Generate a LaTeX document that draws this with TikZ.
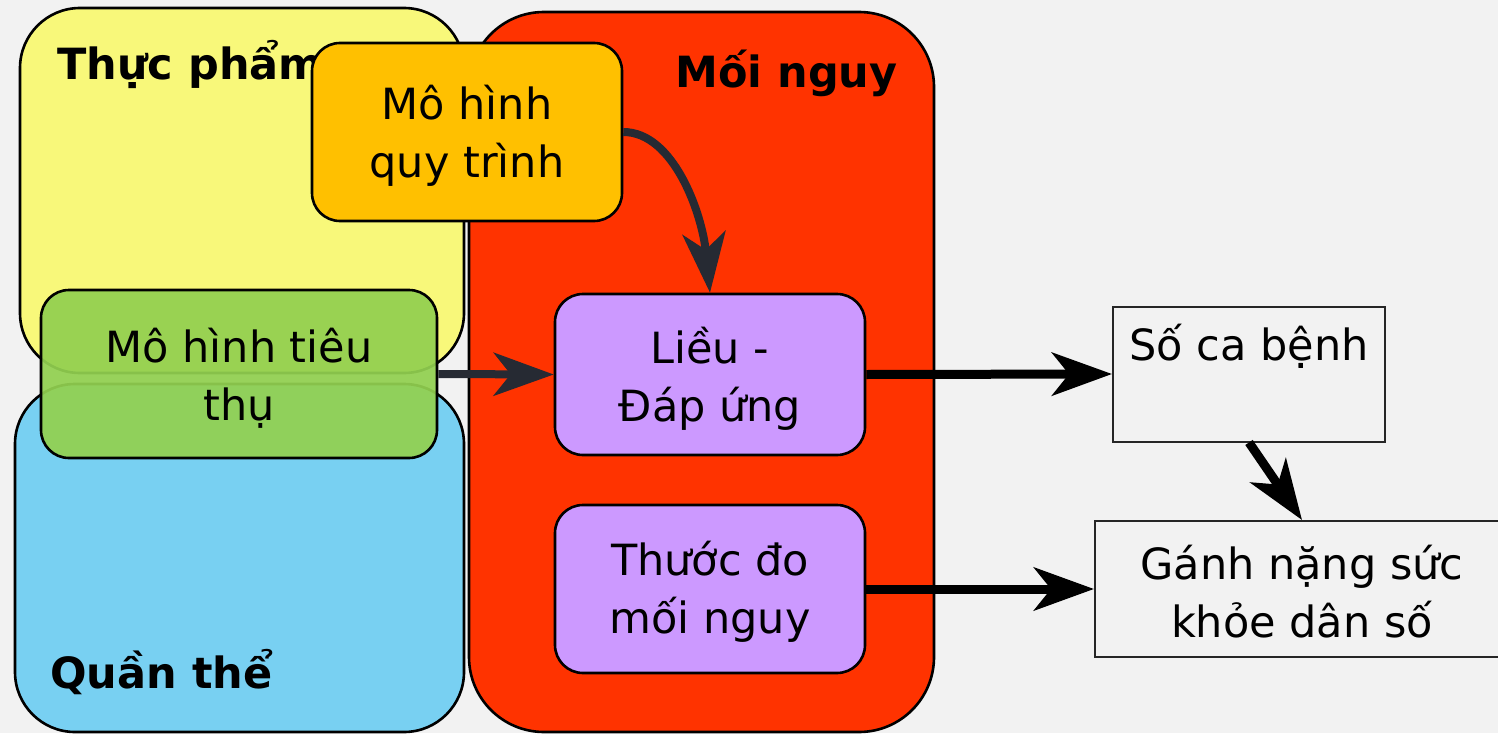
\documentclass[tikz,border=0pt]{standalone}
\usepackage{fontspec}
\setmainfont{DejaVu Sans}
\usetikzlibrary{arrows.meta}

\definecolor{bgc}{HTML}{F2F2F2}
\definecolor{foodc}{HTML}{F8F87A}
\definecolor{popc}{HTML}{78D0F2}
\definecolor{hazc}{HTML}{FF3300}
\definecolor{procc}{HTML}{FFC000}
\definecolor{consc}{HTML}{92D050}
\definecolor{dosec}{HTML}{CC99FF}
\definecolor{linkc}{HTML}{262A33}

\begin{document}
\begin{tikzpicture}[x=0.5pt,y=-0.5pt,
  every node/.style={font=\fontsize{21.5}{29}\selectfont},
  group/.style={draw=black, line width=1.3pt, rounded corners=30pt, inner sep=0pt},
  grouptitle/.style={font=\fontsize{21.5}{29}\selectfont\bfseries, anchor=base west, inner sep=0pt},
  model/.style={draw=black, line width=1.3pt, rounded corners=14pt,
                inner sep=0pt, minimum width=155pt},
  boxtext/.style={align=center, inner sep=0pt},
  outbox/.style={draw=black!85, line width=1pt, fill=bgc, inner sep=0pt},
  tipshape/.style={-{Stealth[length=30pt,width=21.5pt,inset=8.5pt]}},
  darr/.style={draw=linkc, line width=4pt, tipshape},
  barr/.style={draw=black, line width=4.5pt, tipshape}]

\useasboundingbox (0,0) rectangle (1498,733);
\fill[bgc] (0,0) rectangle (1498,733);
\clip (0,0) rectangle (1498,733);

% domain groups
\node[group, fill=foodc, minimum width=222pt, minimum height=182.5pt] (food) at (242,190.5) {};
\node[group, fill=popc, minimum width=224.5pt, minimum height=174pt] (pop) at (239.5,558) {};
\node[group, fill=hazc, rounded corners=37.5pt, minimum width=232.5pt, minimum height=360pt] (haz) at (701.5,372) {};

\node[grouptitle] (foodt) at (57,80) {Thực phẩm};
\node[grouptitle] (hazt) at (675,88) {Mối nguy};
\node[grouptitle] (popt) at (50,688) {Quần thể};

% model boxes
\node[model, fill=procc, minimum height=89pt] (proc) at (467,132) {};
\node[boxtext] (proct) at ([yshift=-2pt]proc.center) {Mô hình\\quy trình};
\node[model, fill=consc, fill opacity=0.93, minimum width=198pt, minimum height=84pt] (cons) at (239,374) {};
\node[boxtext] (const) at ([yshift=-2pt]cons.center) {Mô hình tiêu\\thụ};
\node[model, fill=dosec, minimum height=80.5pt] (dose) at (710,374.5) {};
\node[boxtext] (doset) at ([yshift=-2pt]dose.center) {Liều -\\Đáp ứng};
\node[model, fill=dosec, minimum height=84pt] (meas) at (710,589) {};
\node[boxtext] (meast) at ([yshift=-1.5pt]meas.center) {Thước đo\\mối nguy};

% outcome boxes
\node[outbox, minimum width=136pt, minimum height=67.5pt] (cases) at (1249,374) {};
\node[anchor=base, inner sep=0pt] (casest) at (1249,360) {Số ca bệnh};
\node[outbox, minimum width=207pt, minimum height=68pt] (burden) at (1302,589) {};
\node[boxtext] (burdent) at ([yshift=-1.5pt]burden.center) {Gánh nặng sức\\khỏe dân số};

% connectors
\draw[darr] (cons.east) -- (dose.west);
\draw[darr] (proc.east) .. controls +(50,0) and +(-8,-80) .. (dose.north);
\draw[barr] (dose.east) -- (cases.west);
\draw[barr] (meas.east) -- (burden.west);
\draw[barr] (cases.south) -- (burden.north);
\end{tikzpicture}
\end{document}
